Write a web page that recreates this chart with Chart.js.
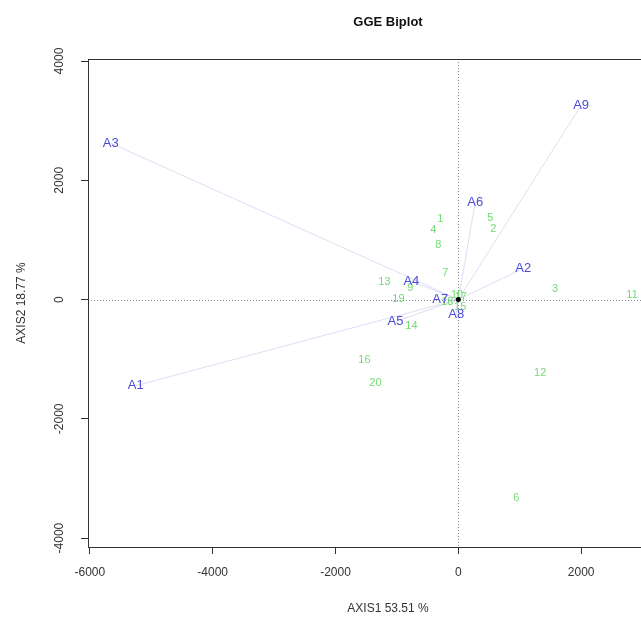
<!DOCTYPE html>
<html>
<head>
<meta charset="utf-8">
<script src="https://cdn.jsdelivr.net/npm/chart.js@4.4.0/dist/chart.umd.min.js"></script>
<style>
  html, body { margin: 0; padding: 0; background: #fff; overflow: hidden; }
  #wrap { width: 720px; height: 621px; }
</style>
</head>
<body>
<div id="wrap"><canvas id="biplot" width="720" height="621"></canvas></div>
<script>
// Environment vectors (blue)
const envNames = ['A1', 'A2', 'A3', 'A4', 'A5', 'A6', 'A7', 'A8', 'A9'];
const envX = [-5252, 1057, -5659, -764, -1024, 276, -293, -33, 2000];
const envY = [-1445, 521, 2622, 303, -370, 1630, 0, -252, 3260];

// Genotype scores (green)
const genNames = ['1', '2', '3', '4', '5', '6', '7', '8', '9', '10',
                  '11', '12', '13', '14', '15', '16', '17', '18', '19', '20'];
const genX = [-293, 569, 1577, -407, 520, 943, -211, -325, -780, -20,
              2829, 1333, -1203, -764, 30, -1528, 40, -180, -976, -1350];
const genY = [1345, 1176, 185, 1160, 1361, -3328, 454, 908, 200, 80,
              84, -1227, 303, -437, -130, -1008, 40, -40, 17, -1395];

// Axis ticks
const xTicks = [-6000, -4000, -2000, 0, 2000];
const yTicks = [-4000, -2000, 0, 2000, 4000];

const vectorData = [];
envX.forEach((x, i) => {
    vectorData.push({ x: 0, y: 0 });
    vectorData.push({ x: x, y: envY[i] });
    vectorData.push({ x: null, y: null });
});

const labelPlugin = {
    id: 'labels',
    afterDatasetsDraw(chart) {
        const { ctx, chartArea, scales } = chart;
        const xs = scales.x, ys = scales.y;
        ctx.save();

        // dotted zero lines
        ctx.strokeStyle = '#8a8a8a';
        ctx.lineWidth = 1;
        ctx.setLineDash([1, 2]);
        const x0 = Math.round(xs.getPixelForValue(0)) + 0.5;
        const y0 = Math.round(ys.getPixelForValue(0)) + 0.5;
        ctx.beginPath();
        ctx.moveTo(chartArea.left, y0); ctx.lineTo(chartArea.right, y0);
        ctx.moveTo(x0, chartArea.top); ctx.lineTo(x0, chartArea.bottom);
        ctx.stroke();
        ctx.setLineDash([]);

        ctx.textAlign = 'center';
        ctx.textBaseline = 'middle';

        // genotype labels
        ctx.fillStyle = 'rgb(115,218,115)';
        ctx.font = '11px "Liberation Sans", Arial, sans-serif';
        genNames.forEach((n, i) => {
            ctx.fillText(n, xs.getPixelForValue(genX[i]), ys.getPixelForValue(genY[i]));
        });

        // environment labels
        ctx.fillStyle = 'rgb(75,75,215)';
        ctx.font = '13px "Liberation Sans", Arial, sans-serif';
        envNames.forEach((n, i) => {
            ctx.fillText(n, xs.getPixelForValue(envX[i]), ys.getPixelForValue(envY[i]));
        });

        // origin
        ctx.fillStyle = '#000';
        ctx.beginPath();
        ctx.arc(xs.getPixelForValue(0), ys.getPixelForValue(0), 2.5, 0, Math.PI * 2);
        ctx.fill();

        // box
        ctx.strokeStyle = '#333';
        ctx.lineWidth = 1;
        ctx.strokeRect(Math.round(chartArea.left) + 0.5, Math.round(chartArea.top) + 0.5,
            Math.round(chartArea.width), Math.round(chartArea.height));

        // y tick labels, rotated like R's axis()
        ctx.fillStyle = '#333';
        ctx.font = '12px "Liberation Sans", Arial, sans-serif';
        yTicks.forEach(v => {
            ctx.save();
            ctx.translate(60, ys.getPixelForValue(v));
            ctx.rotate(-Math.PI / 2);
            ctx.fillText(String(v), 0, 0);
            ctx.restore();
        });

        // titles
        ctx.fillStyle = '#111';
        ctx.font = 'bold 13px "Liberation Sans", Arial, sans-serif';
        ctx.fillText('GGE Biplot', 388, 22);
        ctx.font = '12px "Liberation Sans", Arial, sans-serif';
        ctx.fillStyle = '#333';
        ctx.fillText('AXIS1 53.51 %', 388, 609);
        ctx.translate(22, (chartArea.top + chartArea.bottom) / 2);
        ctx.rotate(-Math.PI / 2);
        ctx.fillText('AXIS2 18.77 %', 0, 0);
        ctx.restore();
    }
};

new Chart(document.getElementById('biplot').getContext('2d'), {
    type: 'scatter',
    data: {
        datasets: [{
            data: vectorData,
            showLine: true,
            spanGaps: false,
            borderColor: 'rgba(210,210,242,0.75)',
            borderWidth: 1,
            pointRadius: 0
        }]
    },
    options: {
        responsive: false,
        animation: false,
        events: [],
        layout: { padding: { top: 59, right: 32, left: 0, bottom: 0 } },
        plugins: { legend: { display: false }, tooltip: { enabled: false } },
        scales: {
            x: {
                type: 'linear',
                min: -6030,
                max: 3740,
                afterBuildTicks: s => { s.ticks = xTicks.map(v => ({ value: v })); },
                afterFit: s => { s.height = 74; },
                grid: { drawOnChartArea: false, drawTicks: true, tickLength: 7, color: '#333' },
                border: { display: false },
                ticks: {
                    color: '#333', padding: 11, maxRotation: 0,
                    callback: v => String(v),
                    font: { family: '"Liberation Sans", Arial, sans-serif', size: 12 }
                }
            },
            y: {
                type: 'linear',
                min: -4150,
                max: 4034,
                afterBuildTicks: s => { s.ticks = yTicks.map(v => ({ value: v })); },
                afterFit: s => { s.width = 88; },
                grid: { drawOnChartArea: false, drawTicks: true, tickLength: 7, color: '#333' },
                border: { display: false },
                ticks: { display: false }
            }
        }
    },
    plugins: [labelPlugin]
});
</script>
</body>
</html>
